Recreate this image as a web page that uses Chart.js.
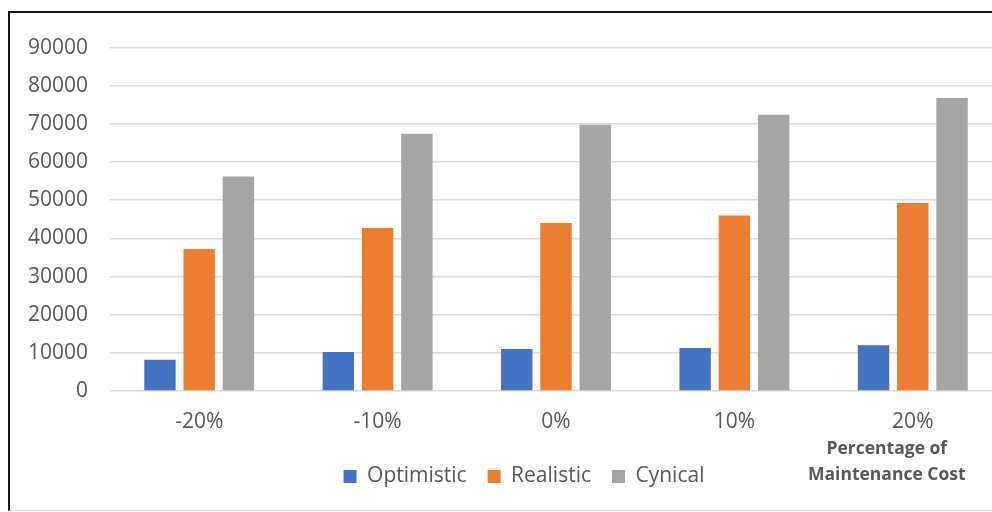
<!DOCTYPE html>
<html>
<head>
<meta charset="utf-8">
<script src="https://cdn.jsdelivr.net/npm/chart.js@4.4.0/dist/chart.umd.min.js"></script>
<style>
  html, body { margin: 0; padding: 0; background: #fff; overflow: hidden; }
  #frame {
    position: absolute; left: 8px; top: 11px; width: 1100px; height: 497px;
    border-left: 2px solid #111; border-top: 2px solid #111; border-bottom: 1px solid #e3e3e3;
  }
  #wrap { position: absolute; left: 10px; top: 13px; width: 1030px; height: 499px; }
</style>
</head>
<body>
<div id="frame"></div>
<div id="wrap"><canvas id="myChart" width="1030" height="499"></canvas></div>
<script>
const categories = ["-20%", "-10%", "0%", "10%", "20%"];
const optimistic = [8200, 10200, 11000, 11300, 12000];
const realistic = [37200, 42700, 44000, 46000, 49300];
const cynical = [56200, 67400, 69800, 72400, 76800];
const yTicks = [0, 10000, 20000, 30000, 40000, 50000, 60000, 70000, 80000, 90000];
const axisTitle = ["Percentage of", "Maintenance Cost"];

const textGray = "#595959";

// axis title sits at the right, beside the legend
const axisTitlePlugin = {
  id: "axisTitle",
  afterLayout(chart) {
    // legend is centred on the whole chart box, not on the plot
    chart.legend.left += 18;
    chart.legend.right += 18;
  },
  afterDraw(chart) {
    const ctx = chart.ctx;
    const x = chart.scales.x.getPixelForValue(categories.length - 1) - 26;
    const y0 = chart.chartArea.bottom + 58;
    ctx.save();
    ctx.font = "bold 17.5px 'Open Sans'";
    ctx.fillStyle = textGray;
    ctx.textAlign = "center";
    ctx.textBaseline = "middle";
    axisTitle.forEach((line, i) => ctx.fillText(line, x, y0 + i * 26));
    ctx.restore();
  },
};

var ctx = document.getElementById("myChart").getContext("2d");
var myChart = new Chart(ctx, {
  type: "bar",
  data: {
    labels: categories,
    datasets: [
      { label: "Optimistic", data: optimistic, backgroundColor: "#4472C4" },
      { label: "Realistic", data: realistic, backgroundColor: "#ED7D31" },
      { label: "Cynical", data: cynical, backgroundColor: "#A5A5A5" },
    ],
  },
  options: {
    responsive: false,
    animation: false,
    categoryPercentage: 0.66,
    barPercentage: 0.8,
    layout: { padding: { left: 0, right: 38, top: 34, bottom: 15 } },
    plugins: {
      tooltip: { enabled: false },
      legend: {
        position: "bottom",
        labels: {
          boxWidth: 13,
          boxHeight: 13,
          padding: 21,
          color: textGray,
          font: { family: "'Open Sans'", size: 21 },
        },
      },
    },
    scales: {
      x: {
        grid: { display: false },
        border: { display: false },
        ticks: { color: textGray, padding: 10, font: { family: "'Open Sans'", size: 21 } },
        afterFit: (s) => { s.height = 54; },
      },
      y: {
        min: 0,
        max: 90000,
        afterBuildTicks: (s) => { s.ticks = yTicks.map((v) => ({ value: v })); },
        grid: { color: "#d9d9d9", lineWidth: 1.5, drawTicks: false },
        border: { display: false },
        ticks: {
          color: textGray,
          padding: 22,
          font: { family: "'Open Sans'", size: 21 },
          callback: (v) => String(v),
        },
        afterFit: (s) => { s.width = 100; },
      },
    },
  },
  plugins: [axisTitlePlugin],
});
</script>
</body>
</html>
